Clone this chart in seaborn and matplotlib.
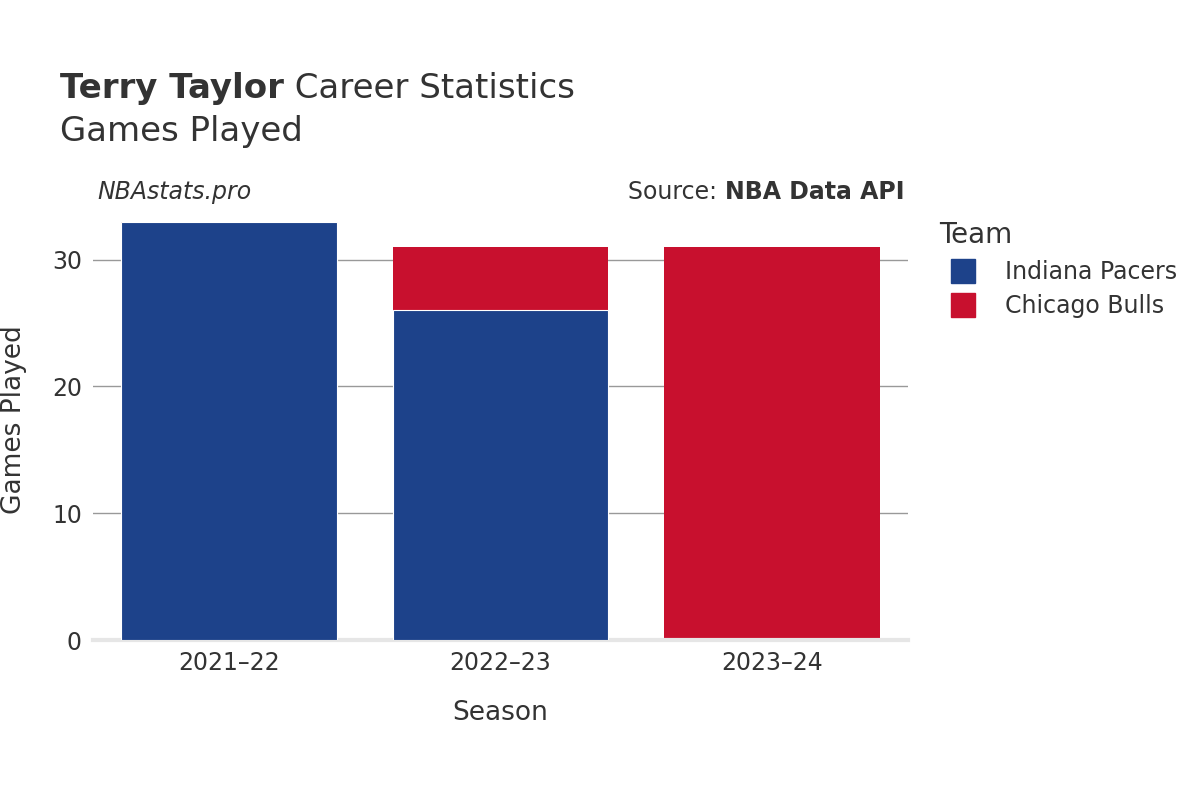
import matplotlib
matplotlib.use("Agg")
import matplotlib.pyplot as plt
import seaborn as sns
import pandas as pd
from matplotlib.lines import Line2D
from matplotlib.offsetbox import AnchoredOffsetbox, TextArea, HPacker

seasons = ["2021–22", "2022–23", "2023–24"]
pacers = [33, 26, 0]
bulls = [0, 5, 31]
teams = ["Indiana Pacers", "Chicago Bulls"]
colors = ["#1d428a", "#c8102e"]
yticks = [0, 10, 20, 30]

totals = [p + b for p, b in zip(pacers, bulls)]
df = pd.DataFrame({"Season": seasons, "Pacers": pacers, "Total": totals})

fig = plt.figure(figsize=(12, 8), dpi=100)
ax = fig.add_axes([0.0775, 0.2, 0.679, 0.55])
sns.barplot(data=df, x="Season", y="Total", color=colors[1], width=0.794, saturation=1, ax=ax, zorder=2)
sns.barplot(data=df, x="Season", y="Pacers", color=colors[0], width=0.794, saturation=1, ax=ax, zorder=3,
            edgecolor="white", linewidth=0.8)
for p in ax.patches:
    if p.get_height() == 0:
        p.set_visible(False)

ax.set_ylim(0, 34.7)
ax.set_xlim(-0.5, 2.5)
ax.set_yticks(yticks)
ax.grid(axis="y", color="#999999", linewidth=1, zorder=0)
ax.set_axisbelow(True)
for s in ["top", "right", "left"]:
    ax.spines[s].set_visible(False)
ax.spines["bottom"].set_color("#e6e6e6")
ax.spines["bottom"].set_linewidth(3)
ax.tick_params(axis="both", length=0, labelsize=17, colors="#333333", pad=8)
ax.set_xlabel("Season", fontsize=19, color="#333333", labelpad=18)
ax.set_ylabel("Games Played", fontsize=19, color="#333333", labelpad=18)

def rich(parts, x, y, ha):
    boxes = [TextArea(t, textprops=dict(fontsize=fs, color="#333333", fontweight=w, style=st)) for t, fs, w, st in parts]
    pk = HPacker(children=boxes, pad=0, sep=0, align="baseline")
    loc = "center left" if ha == "left" else "center right"
    ab = AnchoredOffsetbox(loc=loc, child=pk, pad=0, frameon=False, bbox_to_anchor=(x, y),
                           bbox_transform=fig.transFigure, borderpad=0)
    fig.add_artist(ab)

rich([("Terry Taylor", 24.5, "bold", "normal"), (" Career Statistics", 24.5, "normal", "normal")], 0.05, 0.889, "left")
fig.text(0.05, 0.835, "Games Played", fontsize=24.5, color="#333333", va="center")
fig.text(0.081, 0.76, "NBAstats.pro", fontsize=17, style="italic", color="#333333", va="center")
rich([("Source: ", 17, "normal", "normal"), ("NBA Data API", 17, "bold", "normal")], 0.7535, 0.76, "right")

handles = [Line2D([0], [0], marker="s", linestyle="", markersize=17, markerfacecolor=c, markeredgecolor=c) for c in colors]
leg = fig.legend(handles, teams, title="Team", loc="upper left", bbox_to_anchor=(0.765, 0.75),
                 frameon=False, fontsize=17, title_fontsize=20, labelcolor="#333333", handletextpad=0.8,
                 labelspacing=0.45)
leg.get_title().set_color("#333333")
leg._legend_box.align = "left"

fig.savefig("out.png", dpi=100, facecolor="white")
